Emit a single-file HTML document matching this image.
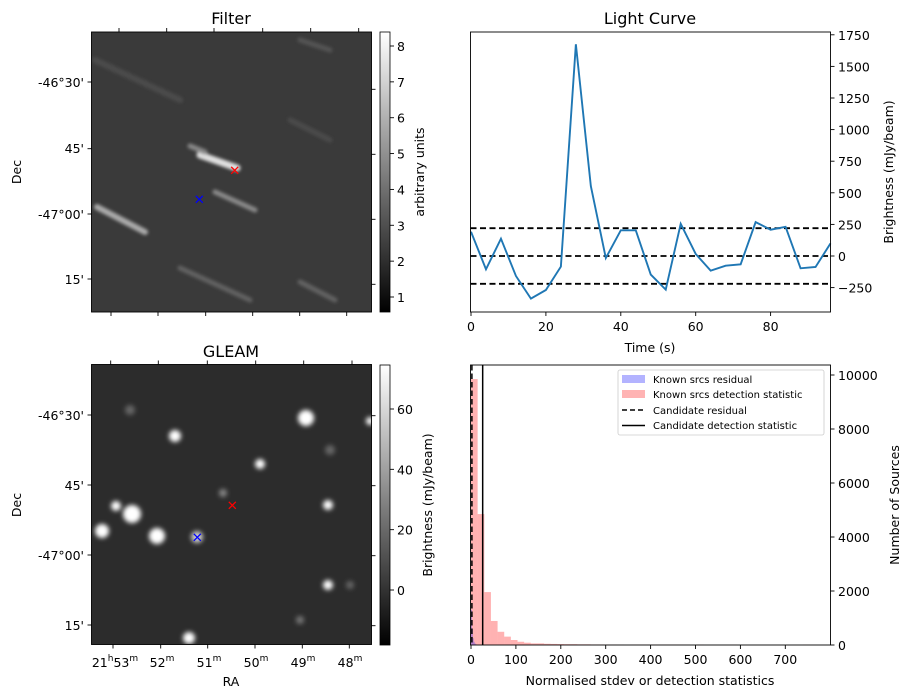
<!DOCTYPE html>
<html><head><meta charset="utf-8">
<style>
body{margin:0;background:#fff;}
svg{display:block;font-family:"DejaVu Sans","Liberation Sans",sans-serif;}
</style></head>
<body>
<svg id="fig" width="913" height="699" viewBox="0 0 913 699" xmlns="http://www.w3.org/2000/svg">
<defs>
<linearGradient id="cb1" x1="0" y1="1" x2="0" y2="0"><stop offset="0" stop-color="#000"/><stop offset="1" stop-color="#fff"/></linearGradient>
<filter id="blur1"><feGaussianBlur stdDeviation="2.5"/></filter>
<filter id="blur2"><feGaussianBlur stdDeviation="1.5"/></filter>
<clipPath id="clipA"><rect x="91.5" y="32" width="280" height="280"/></clipPath>
<clipPath id="clipB"><rect x="91.5" y="364.5" width="280" height="280"/></clipPath>
</defs>

<!-- Filter image -->
<g>
<text x="231" y="24" font-size="16" text-anchor="middle">Filter</text>
<g clip-path="url(#clipA)">
<rect x="91.5" y="32" width="280" height="280" fill="#3a3a3a"/>
<g filter="url(#blur2)" stroke-linecap="round" fill="none">
<line x1="200" y1="155" x2="237" y2="168" stroke="#e0e0e0" stroke-width="7"/>
<line x1="190" y1="146" x2="205" y2="152" stroke="#888" stroke-width="5"/>
<line x1="215" y1="192" x2="255" y2="210" stroke="#8a8a8a" stroke-width="5"/>
<line x1="97" y1="207" x2="145" y2="232" stroke="#aaa" stroke-width="6"/>
<line x1="180" y1="268" x2="250" y2="300" stroke="#626262" stroke-width="5"/>
<line x1="300" y1="282" x2="335" y2="300" stroke="#626262" stroke-width="5"/>
<line x1="95" y1="60" x2="180" y2="100" stroke="#4c4c4c" stroke-width="6"/>
<line x1="300" y1="40" x2="330" y2="50" stroke="#555" stroke-width="5"/>
<line x1="290" y1="120" x2="330" y2="140" stroke="#4c4c4c" stroke-width="5"/>
</g>
</g>
<rect x="91.5" y="32" width="280" height="280" fill="none" stroke="#000" stroke-width="0.9"/>
<g stroke="#000" stroke-width="0.9">
<line x1="119" y1="32" x2="119" y2="28"/><line x1="166.7" y1="32" x2="166.7" y2="28"/><line x1="214" y1="32" x2="214" y2="28"/><line x1="262.7" y1="32" x2="262.7" y2="28"/><line x1="310.7" y1="32" x2="310.7" y2="28"/><line x1="358.7" y1="32" x2="358.7" y2="28"/>
<line x1="111" y1="312" x2="111" y2="316"/><line x1="158" y1="312" x2="158" y2="316"/><line x1="205.7" y1="312" x2="205.7" y2="316"/><line x1="252.7" y1="312" x2="252.7" y2="316"/><line x1="299.7" y1="312" x2="299.7" y2="316"/><line x1="346.7" y1="312" x2="346.7" y2="316"/>
<line x1="91.5" y1="82" x2="87.5" y2="82"/><line x1="91.5" y1="148.7" x2="87.5" y2="148.7"/><line x1="91.5" y1="214" x2="87.5" y2="214"/><line x1="91.5" y1="279" x2="87.5" y2="279"/>
<line x1="371.5" y1="89.3" x2="375.5" y2="89.3"/><line x1="371.5" y1="154.3" x2="375.5" y2="154.3"/><line x1="371.5" y1="219.3" x2="375.5" y2="219.3"/><line x1="371.5" y1="284.3" x2="375.5" y2="284.3"/>
</g>
<g font-size="12.5" text-anchor="end">
<text x="84" y="87">-46°30'</text><text x="84" y="153">45'</text><text x="84" y="219">-47°00'</text><text x="84" y="284">15'</text>
</g>
<text transform="translate(21,172) rotate(-90)" font-size="12.5" text-anchor="middle">Dec</text>
<g stroke-width="1.3">
<path d="M231.2 166.8 L238.2 173.8 M238.2 166.8 L231.2 173.8" stroke="#f00"/>
<path d="M195.8 195.8 L202.8 202.8 M202.8 195.8 L195.8 202.8" stroke="#00f"/>
</g>
<rect x="380" y="32" width="10" height="280" fill="url(#cb1)" stroke="#000" stroke-width="0.8"/>
<g id="cb1ticks" font-size="12.5"></g>
<text transform="translate(424,172) rotate(-90)" font-size="12.5" text-anchor="middle">arbitrary units</text>
</g>

<!-- GLEAM image -->
<g>
<text x="231" y="357" font-size="16" text-anchor="middle">GLEAM</text>
<g clip-path="url(#clipB)">
<rect x="91.5" y="364.5" width="280" height="280" fill="#2c2c2c"/>
<g filter="url(#blur1)" fill="#fff">
<circle cx="306" cy="418" r="8"/><circle cx="175" cy="436" r="6"/><circle cx="260" cy="464" r="5"/>
<circle cx="132" cy="514" r="9"/><circle cx="116" cy="506" r="5"/><circle cx="157" cy="536" r="8"/>
<circle cx="102" cy="531" r="7"/><circle cx="197" cy="537" r="6" fill="#ccc"/><circle cx="328" cy="505" r="5"/>
<circle cx="328" cy="585" r="5"/><circle cx="189" cy="638" r="6"/><circle cx="370" cy="421" r="4"/>
<circle cx="223" cy="493" r="4" fill="#888"/><circle cx="300" cy="620" r="4" fill="#777"/><circle cx="350" cy="585" r="4" fill="#666"/>
<circle cx="130" cy="410" r="5" fill="#666"/><circle cx="330" cy="450" r="5" fill="#666"/>
</g>
</g>
<rect x="91.5" y="364.5" width="280" height="280" fill="none" stroke="#000" stroke-width="0.9"/>
<g stroke="#000" stroke-width="0.9">
<line x1="110.7" y1="364.5" x2="110.7" y2="360.5"/><line x1="158.3" y1="364.5" x2="158.3" y2="360.5"/><line x1="207.3" y1="364.5" x2="207.3" y2="360.5"/><line x1="255.7" y1="364.5" x2="255.7" y2="360.5"/><line x1="303.7" y1="364.5" x2="303.7" y2="360.5"/><line x1="352" y1="364.5" x2="352" y2="360.5"/>
<line x1="113" y1="644.5" x2="113" y2="648.5"/><line x1="160.7" y1="644.5" x2="160.7" y2="648.5"/><line x1="207.7" y1="644.5" x2="207.7" y2="648.5"/><line x1="255" y1="644.5" x2="255" y2="648.5"/><line x1="302.3" y1="644.5" x2="302.3" y2="648.5"/><line x1="349.3" y1="644.5" x2="349.3" y2="648.5"/>
<line x1="91.5" y1="415" x2="87.5" y2="415"/><line x1="91.5" y1="485" x2="87.5" y2="485"/><line x1="91.5" y1="555" x2="87.5" y2="555"/><line x1="91.5" y1="625" x2="87.5" y2="625"/>
<line x1="371.5" y1="415.7" x2="375.5" y2="415.7"/><line x1="371.5" y1="485.7" x2="375.5" y2="485.7"/><line x1="371.5" y1="555.7" x2="375.5" y2="555.7"/><line x1="371.5" y1="625.7" x2="375.5" y2="625.7"/>
</g>
<g font-size="12.5" text-anchor="end">
<text x="84" y="420">-46°30'</text><text x="84" y="490">45'</text><text x="84" y="560">-47°00'</text><text x="84" y="630">15'</text>
</g>
<g font-size="12.5" text-anchor="middle">
<text x="115" y="667">21<tspan font-size="9" dy="-6">h</tspan><tspan dy="6">53</tspan><tspan font-size="9" dy="-6">m</tspan></text>
<text x="162" y="667">52<tspan font-size="9" dy="-6">m</tspan></text>
<text x="209" y="667">51<tspan font-size="9" dy="-6">m</tspan></text>
<text x="256" y="667">50<tspan font-size="9" dy="-6">m</tspan></text>
<text x="303" y="667">49<tspan font-size="9" dy="-6">m</tspan></text>
<text x="350" y="667">48<tspan font-size="9" dy="-6">m</tspan></text>
</g>
<text x="231" y="686" font-size="12.5" text-anchor="middle">RA</text>
<text transform="translate(21,505) rotate(-90)" font-size="12.5" text-anchor="middle">Dec</text>
<path d="M228.8 501.8 L235.8 508.8 M235.8 501.8 L228.8 508.8" stroke="#f00" stroke-width="1.3"/>
<path d="M193.8 533.8 L200.8 540.8 M200.8 533.8 L193.8 540.8" stroke="#00f" stroke-width="1.3"/>
<rect x="380" y="365" width="10" height="280" fill="url(#cb1)" stroke="#000" stroke-width="0.8"/>
<g id="cb2ticks" font-size="12.5"></g>
<text transform="translate(432,505) rotate(-90)" font-size="12.5" text-anchor="middle">Brightness (mJy/beam)</text>
</g>

<!-- Light curve -->
<g>
<text x="650" y="24" font-size="16" text-anchor="middle">Light Curve</text>
<g id="lc"></g>
<rect x="470.5" y="32" width="360" height="280" fill="none" stroke="#000" stroke-width="0.9"/>
<text x="650" y="352" font-size="12.5" text-anchor="middle">Time (s)</text>
<text transform="translate(893,172) rotate(-90)" font-size="12.5" text-anchor="middle">Brightness (mJy/beam)</text>
</g>

<!-- Histogram -->
<g>
<g id="hist"></g>
<rect x="470.5" y="365" width="360" height="280" fill="none" stroke="#000" stroke-width="0.9"/>
<text x="650" y="685" font-size="12.5" text-anchor="middle">Normalised stdev or detection statistics</text>
<text transform="translate(899,505) rotate(-90)" font-size="12.5" text-anchor="middle">Number of Sources</text>
<g>
<rect x="618" y="370" width="206" height="65" rx="2" fill="#fff" fill-opacity="0.8" stroke="#ccc" stroke-width="0.8"/>
<rect x="622" y="375" width="23" height="8" fill="#b3b3ff"/>
<rect x="622" y="390" width="23" height="8" fill="#ffb3b3"/>
<line x1="622" y1="410" x2="645" y2="410" stroke="#000" stroke-width="1.5" stroke-dasharray="5,3"/>
<line x1="622" y1="425.5" x2="645" y2="425.5" stroke="#000" stroke-width="1.5"/>
<g font-size="10">
<text x="653" y="383">Known srcs residual</text>
<text x="653" y="398">Known srcs detection statistic</text>
<text x="653" y="414">Candidate residual</text>
<text x="653" y="429">Candidate detection statistic</text>
</g>
</g>
</g>
</svg>
<script>
// ---- data ----
var lcTimes = [0,4,8,12,16,20,24,28,32,36,40,44,48,52,56,60,64,68,72,76,80,84,88,92,96];
var lcValues = [192,-105,137,-158,-337,-269,-84,1675,553,-16,203,203,-147,-266,255,16,-116,-77,-66,268,208,231,-97,-87,100];
var lcThresholds = [220,0,-220];
var lcXTicks = [0,20,40,60,80];
var lcYTicks = [-250,0,250,500,750,1000,1250,1500,1750];
var histBinWidth = 14.8;
var redCounts = [9850,4850,1960,890,490,310,185,120,85,60,60,45,40,35,30,30,25,25,20,20,15,15,10,0,15,15,15,15,15,15,15,15,10,0,15,0,0,0,0,10,0,0,0,0,0,0,0,0,0,0,10];
var blueBinWidth = 2;
var blueCounts = [1300,600,250,120,60,30];
var candResidual = 2;
var candDetection = 26;
var histXTicks = [0,100,200,300,400,500,600,700];
var histYTicks = [0,2000,4000,6000,8000,10000];
var cb1Ticks = [1,2,3,4,5,6,7,8];
var cb2Ticks = [0,20,40,60];

var NS='http://www.w3.org/2000/svg';
function mk(parent,tag,attrs){var e=document.createElementNS(NS,tag);for(var k in attrs)e.setAttribute(k,attrs[k]);parent.appendChild(e);return e;}

// colorbars
var cb1 = document.getElementById('cb1ticks');
function cb1y(v){return 297 - (v-1)*(297-46)/7;}
cb1Ticks.forEach(function(v){
  var l=mk(cb1,'line',{x1:390,x2:394,y1:cb1y(v),y2:cb1y(v),stroke:'#000','stroke-width':0.9});
  
  
  var t=mk(cb1,'text',{x:397,y:cb1y(v)+5});t.textContent=v;
  
  
});
var cb2 = document.getElementById('cb2ticks');
function cb2y(v){return 590 - v*(590-409)/60;}
cb2Ticks.forEach(function(v){
  var l=mk(cb2,'line',{x1:390,x2:394,y1:cb2y(v),y2:cb2y(v),stroke:'#000','stroke-width':0.9});
  
  
  var t=mk(cb2,'text',{x:397,y:cb2y(v)+5});t.textContent=v;
  
  
});

// light curve
var lc=document.getElementById('lc');
function lx(t){return 471 + t*3.745;}
function ly(v){return 256 - v*31.6/250;}
lcThresholds.forEach(function(v){
  var l=mk(lc,'line',{x1:470.5,x2:830.5,y1:ly(v),y2:ly(v),stroke:'#000','stroke-width':1.8,'stroke-dasharray':'6,3.5'});
  
  
});
var pts=lcTimes.map(function(t,i){return lx(t)+','+ly(lcValues[i]);}).join(' ');
var pl=mk(lc,'polyline',{points:pts,fill:'none',stroke:'#1f77b4','stroke-width':1.9});


lcXTicks.forEach(function(v){
  mk(lc,'line',{x1:lx(v),x2:lx(v),y1:312,y2:316,stroke:'#000','stroke-width':0.9});
  var t=mk(lc,'text',{x:lx(v),y:331,'font-size':12.5,'text-anchor':'middle'});t.textContent=v;
  
  
});
lcYTicks.forEach(function(v){
  mk(lc,'line',{x1:830.5,x2:834.5,y1:ly(v),y2:ly(v),stroke:'#000','stroke-width':0.9});
  var t=mk(lc,'text',{x:838,y:ly(v)+5,'font-size':12.5});t.textContent=(v<0?'\u2212'+(-v):v);
  
  
});

// histogram
var h=document.getElementById('hist');
function hx(v){return 471 + v*0.449;}
function hy(c){return 645 - c*0.027;}
redCounts.forEach(function(c,i){
  if(c<=0) return;
  var r=mk(h,'rect',{x:hx(i*histBinWidth),y:hy(c),width:histBinWidth*0.449,height:645-hy(c),fill:'#ff0000','fill-opacity':0.3});
  
  
});
blueCounts.forEach(function(c,i){
  var r=mk(h,'rect',{x:hx(i*blueBinWidth),y:hy(c),width:blueBinWidth*0.449,height:645-hy(c),fill:'#0000ff','fill-opacity':0.3});
  
  
});
var d=mk(h,'line',{x1:hx(candResidual),x2:hx(candResidual),y1:365,y2:645,stroke:'#000','stroke-width':1.5,'stroke-dasharray':'5.5,3'});


var s=mk(h,'line',{x1:hx(candDetection),x2:hx(candDetection),y1:365,y2:645,stroke:'#000','stroke-width':1.5});


histXTicks.forEach(function(v){
  mk(h,'line',{x1:hx(v),x2:hx(v),y1:645,y2:649,stroke:'#000','stroke-width':0.9});
  var t=mk(h,'text',{x:hx(v),y:664,'font-size':12.5,'text-anchor':'middle'});t.textContent=v;
  
  
});
histYTicks.forEach(function(v){
  mk(h,'line',{x1:830.5,x2:834.5,y1:hy(v),y2:hy(v),stroke:'#000','stroke-width':0.9});
  var t=mk(h,'text',{x:838,y:hy(v)+5,'font-size':12.5});t.textContent=v;
  
  
});
</script>
</body></html>
